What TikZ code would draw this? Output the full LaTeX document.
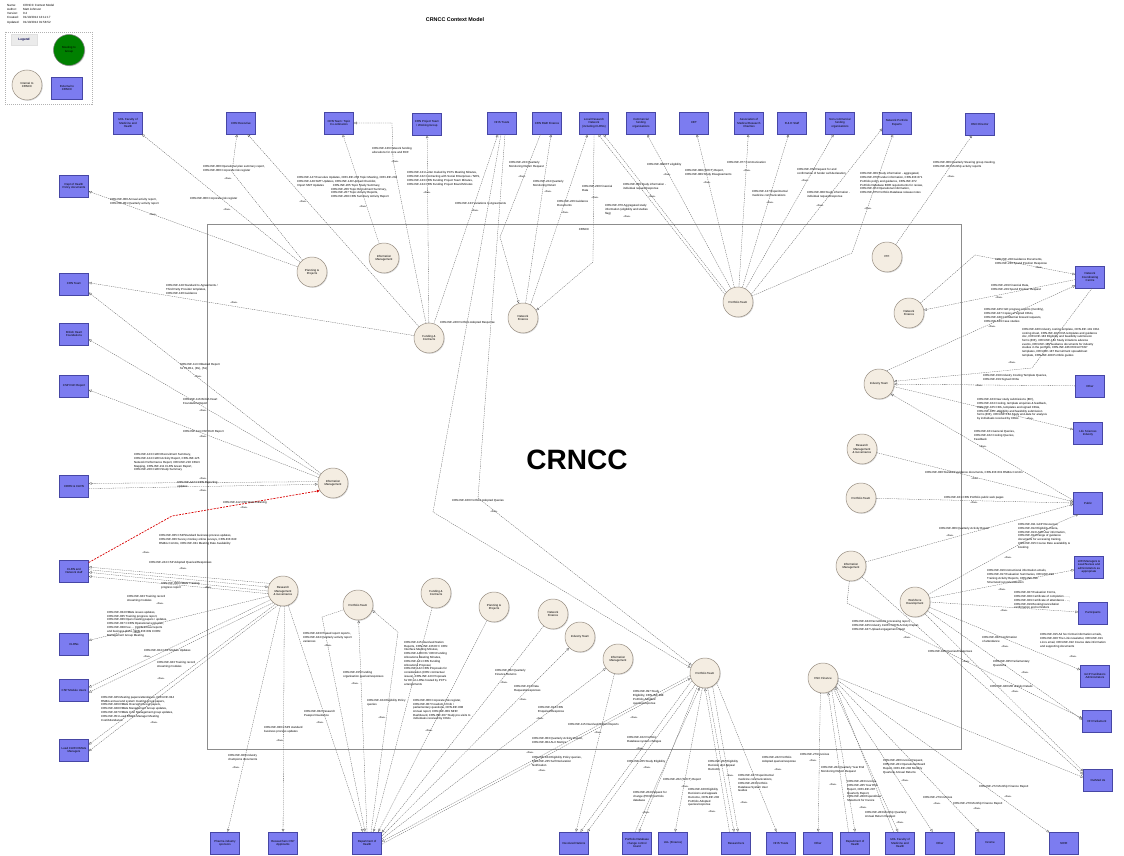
\documentclass[tikz,border=0pt]{standalone}
\usepackage{fontspec}
\setmainfont{Liberation Sans}
\usetikzlibrary{arrows.meta, shadows, positioning}
\definecolor{extfill}{RGB}{124,124,240}
\definecolor{extline}{RGB}{70,70,165}
\definecolor{intfill}{RGB}{244,237,226}
\definecolor{intline}{RGB}{150,140,128}
\definecolor{meetfill}{RGB}{0,128,0}
\definecolor{flowgray}{RGB}{95,95,95}
\tikzset{
    extbox/.style={rectangle, draw=extline, fill=extfill, line width=0.4pt, minimum width=29pt, minimum height=22pt, inner sep=0.5pt, align=center, font=\fontsize{2.9}{3.5}\selectfont, drop shadow={shadow xshift=0.8pt, shadow yshift=-0.8pt, fill=black!35}},
    intcircle/.style={circle, draw=intline, fill=intfill, line width=0.5pt, minimum size=30pt, inner sep=0pt, align=center, font=\fontsize{2.9}{3.5}\selectfont, drop shadow={shadow xshift=0.8pt, shadow yshift=-0.8pt, fill=black!30}},
    flowarrow/.style={draw=flowgray, line width=0.3pt, dash pattern=on 1.3pt off 0.9pt, -{Triangle[open, length=2.8pt, width=2.6pt]}},
    redflow/.style={flowarrow, draw=red!85!black, line width=0.7pt, dash pattern=on 2pt off 1.2pt},
    infolbl/.style={anchor=north west, inner sep=0pt, align=left, font=\fontsize{2.9}{3.9}\selectfont},
    flowtag/.style={inner sep=0pt, font=\fontsize{2.4}{2.6}\selectfont},
}

\begin{document}
\begin{tikzpicture}[x=1pt, y=-1pt]
\fill[white] (0,0) rectangle (1124,856);
\useasboundingbox (0,0) rectangle (1124,856);

% header and legend
\node[anchor=north west, inner sep=0pt, align=left, font=\fontsize{3}{4.2}\selectfont] (metakeys) at (7,4) {Name:\\Author:\\Version:\\Created:\\Updated:};
\node[anchor=north west, inner sep=0pt, align=left, font=\fontsize{3}{4.2}\selectfont] (metavals) at (23,4) {CRNCC Context Model\\Matt Johnson\\0.2\\01/10/2012 13:11:17\\01/10/2012 01:58:52};
\node[font=\bfseries\fontsize{5.4}{6}\selectfont] (title) at (455,20) {CRNCC Context Model};

\node[draw=black!30, dash pattern=on 1pt off 1pt, minimum width=87pt, minimum height=72pt, inner sep=0pt] (legend) at (48.5,68) {};
\node[fill=black!8, draw=black!12, minimum width=26pt, minimum height=11pt, inner sep=0pt, font=\bfseries\fontsize{3.2}{4}\selectfont, text=blue!30!black] (legendhd) at (24,40) {Legend};
\node[intcircle, fill=meetfill, draw=black!50, minimum size=31pt] (lgmeet) at (69,50) {Meeting to\\Group};
\node[intcircle] (lgint) at (27,85) {Internal to\\CRNCC};
\node[extbox, minimum width=31pt] (lgext) at (67,88) {External to\\CRNCC};

% system boundary
\node[draw=black!45, line width=0.6pt, minimum width=754pt, minimum height=525pt, inner sep=0pt] (crncc) at (584,486.5) {};
\node[font=\fontsize{2.9}{3.5}\selectfont, anchor=north] (crnccname) at (584,225) {CRNCC};
\node[font=\bfseries\fontsize{28}{30}\selectfont] (crncctitle) at (577,460) {CRNCC};

% external: top row
\node[extbox] (ufmh) at (128,123) {UOL Faculty of\\Medicine and\\Health};
\node[extbox] (crnexec) at (241,123) {CRN Executive};
\node[extbox] (topic) at (339,123) {CRN Team: Topic\\Co-ordinators};
\node[extbox] (projteam) at (427,124) {CRN Project Team\\/ Working Group};
\node[extbox] (nhstop) at (502,123) {NHS Trusts};
\node[extbox] (rdfin) at (547,123) {CRN R\&D Finance};
\node[extbox] (lrn) at (594,123) {Local Research\\Network\\(including CLRNs)};
\node[extbox] (commfund) at (641,123) {Commercial\\funding\\organisations};
\node[extbox] (cet) at (694,123) {CET};
\node[extbox] (amrc) at (749,123) {Association of\\Medical Research\\Charities};
\node[extbox] (rdstaff) at (792,123) {R \& D Staff};
\node[extbox] (noncomm) at (840,123) {Non-commercial\\funding\\organisations};
\node[extbox] (npexp) at (897,123) {Network Portfolio\\Experts};
\node[extbox] (dnc) at (980,124) {DNC Director};

% external: left column
\node[extbox] (dhpol) at (74,186) {Dept of Health\\Policy documents};
\node[extbox] (crnteam) at (74,284) {CRN Team};
\node[extbox] (bhf) at (74,334) {British Heart\\Foundations};
\node[extbox] (cspdoh) at (74,386) {CSP DoH Report};
\node[extbox] (cdrn) at (74,486) {CDRN \& CLRN};
\node[extbox] (clrnstaff) at (74,571) {CLRN and\\Network staff};
\node[extbox] (clrns) at (74,644) {CLRNs};
\node[extbox] (cspusers) at (74,690) {CSP Module Users};
\node[extbox] (leadrmg) at (74,750) {Lead CLRN RM\&G\\Managers};

% external: bottom row
\node[extbox] (pharma) at (225,843) {Pharma industry\\sponsors};
\node[extbox] (cspapp) at (283,843) {Researchers CSP\\Applicants};
\node[extbox] (doh) at (367,843) {Department of\\Health};
\node[extbox] (devolved) at (574,843) {Devolved Nations};
\node[extbox] (pdccb) at (637,843) {Portfolio Database\\change control\\board};
\node[extbox] (uolfin) at (673,843) {UoL (Finance)};
\node[extbox] (researchers) at (736,843) {Researchers};
\node[extbox] (nhsbot) at (781,843) {NHS Trusts};
\node[extbox] (otherA) at (818,843) {Other};
\node[extbox] (dohB) at (855,843) {Department of\\Health};
\node[extbox] (ufmhB) at (900,843) {UOL Faculty of\\Medicine and\\Health};
\node[extbox] (otherB) at (940,843) {Other};
\node[extbox] (income) at (990,843) {Income};
\node[extbox] (nihr) at (1064,843) {NIHR};

% external: right column
\node[extbox] (ncc) at (1090,277) {Network\\Coordinating\\Centre};
\node[extbox] (otherC) at (1090,386) {Other};
\node[extbox] (lsi) at (1088,433) {Life Sciences\\Industry};
\node[extbox] (public) at (1088,503) {Public};
\node[extbox] (lrnmgr) at (1089,567) {LRN Managers \&\\Lead Nurses and\\administrators as\\appropriate};
\node[extbox] (particip) at (1093,613) {Participants};
\node[extbox] (gcpfac) at (1095,676) {GCP Facilitators\\Administrators};
\node[extbox] (dhparl) at (1097,721) {DH Parliament};
\node[extbox] (charities) at (1098,780) {OurMed Us};

% internal teams
\node[intcircle] (pp1) at (312,272) {Planning \&\\Projects};
\node[intcircle] (im1) at (384,258) {Information\\Management};
\node[intcircle] (fc1) at (429,338) {Funding \&\\Contracts};
\node[intcircle] (nf1) at (523,318) {Network\\Finance};
\node[intcircle] (pt1) at (738,302) {Portfolio Team};
\node[intcircle] (ppi) at (887,257) {PPI};
\node[intcircle] (nf2) at (909,313) {Network\\Finance};
\node[intcircle] (it1) at (879,384) {Industry Team};
\node[intcircle] (rmg1) at (862,449) {Research\\Management\\\& Governance};
\node[intcircle] (pt2) at (861,498) {Portfolio Team};
\node[intcircle] (im2) at (333,483) {Information\\Management};
\node[intcircle] (im3) at (851,566) {Information\\Management};
\node[intcircle] (wd) at (915,602) {Workforce\\Development};
\node[intcircle] (hsc) at (823,678) {HSC Finance};
\node[intcircle] (rmg2) at (283,591) {Research\\Management\\\& Governance};
\node[intcircle] (pt3) at (358,605) {Portfolio Team};
\node[intcircle] (fc2) at (436,593) {Funding \&\\Contracts};
\node[intcircle] (pp2) at (494,607) {Planning \&\\Projects};
\node[intcircle] (nf3) at (553,614) {Network\\Finance};
\node[intcircle] (it2) at (580,637) {Industry Team};
\node[intcircle] (im4) at (618,659) {Information\\Management};
\node[intcircle] (pt4) at (705,673) {Portfolio Team};

% bends
\coordinate (kExec) at (232,172);
\coordinate (kTopicA) at (393,160);
\coordinate (kTopicB) at (392,123);
\coordinate (kNhsA) at (433,512);
\coordinate (kNhsB) at (478,498);
\coordinate (kFin) at (500,237);
\coordinate (kLrn) at (593,262);
\coordinate (kExp) at (852,253);
\coordinate (kNcc) at (975,255);
\coordinate (kInd) at (1032,368);
\coordinate (kPub) at (1060,522);
\coordinate (kParl) at (847,603);
\coordinate (kRed) at (172,516);
\coordinate (kPt3) at (322,617);
\coordinate (kPt3b) at (398,632);

% top flows
\draw[flowarrow] (pp1) -- (dhpol);
\draw[flowarrow] (pp1) -- (ufmh);
\draw[flowarrow] (pp1) -- (kExec) -- (crnexec.-110);
\draw[flowarrow] (fc1) -- (crnexec.-60);
\draw[flowarrow] (im1) -- (topic);
\draw[flowarrow] (fc1) -- (kTopicA) -- (kTopicB) -- (topic);
\draw[flowarrow] (fc1) -- (projteam);
\draw[flowarrow] (fc1) -- (nhstop.-110);
\draw[flowarrow] (nhstop.-95) -- (kNhsA) -- (pt4.160);
\draw[flowarrow] (nhstop.-75) -- (kNhsB) -- (pt4.150);
\draw[flowarrow] (rdfin.-120) -- (kFin) -- (nf1);
\draw[flowarrow] (nf1.80) -- (rdfin.-70);
\draw[flowarrow] (nf1.60) -- (lrn.-120);
\draw[flowarrow] (lrn.-90) -- (kLrn) -- (nf1.30);
\draw[flowarrow] (pt1.150) -- (lrn.-70);
\draw[flowarrow] (pt1.140) -- (lrn.-50);
\draw[flowarrow] (pt1) -- (commfund);
\draw[flowarrow] (pt1) -- (cet);
\draw[flowarrow] (pt1) -- (amrc);
\draw[flowarrow] (pt1) -- (rdstaff);
\draw[flowarrow] (pt1) -- (noncomm);
\draw[flowarrow] (pt1) -- (kExp) -- (npexp.-110);
\draw[flowarrow] (pt1.30) -- (npexp.-160);
\draw[flowarrow] (ppi) -- (dnc);

% right flows
\draw[flowarrow] (nf2) -- (kNcc) -- (ncc.170);
\draw[flowarrow] (ncc.-170) -- (nf2);
\draw[flowarrow] (it1.60) -- (ncc.-150);
\draw[flowarrow] (ncc.-80) -- (kInd) -- (it1.10);
\draw[flowarrow] (otherC) -- (it1);
\draw[flowarrow] (it1.-10) -- (lsi);
\draw[flowarrow] (public.170) -- (it1.-40);
\draw[flowarrow] (rmg1) -- (public.175);
\draw[flowarrow] (pt2) -- (public.180);
\draw[flowarrow] (im3) -- (public.-175);
\draw[flowarrow] (wd.30) -- (kPub) -- (public.-130);
\draw[flowarrow] (wd.15) -- (lrnmgr);
\draw[flowarrow] (wd.0) -- (particip);
\draw[flowarrow] (wd.-20) -- (gcpfac);
\draw[flowarrow] (im3) -- (kParl) -- (dhparl.170);
\draw[flowarrow] (wd.-35) -- (dhparl.175);
\draw[flowarrow] (im3.-45) -- (charities.160);
\draw[flowarrow] (wd.-50) -- (charities.150);

% finance flows
\draw[flowarrow] (hsc.-100) -- (otherA);
\draw[flowarrow] (dohB.120) -- (hsc.-70);
\draw[flowarrow] (hsc.-55) -- (dohB.90);
\draw[flowarrow] (hsc.-45) -- (ufmhB.100);
\draw[flowarrow] (ufmhB.120) -- (hsc.-35);
\draw[flowarrow] (hsc.-30) -- (otherB);
\draw[flowarrow] (hsc.-20) -- (income);
\draw[flowarrow] (hsc.-10) -- (nihr);
\draw[flowarrow] (hsc.0) -- (charities.170);

% portfolio flows
\draw[flowarrow] (pt4.-150) -- (devolved.60);
\draw[flowarrow] (im4) -- (devolved.80);
\draw[flowarrow] (pt4.-130) -- (devolved.40);
\draw[flowarrow] (pt4.-120) -- (pdccb.80);
\draw[flowarrow] (pdccb.100) -- (pt4.-110);
\draw[flowarrow] (pt4.-100) -- (uolfin);
\draw[flowarrow] (pt4.-80) -- (researchers.100);
\draw[flowarrow] (researchers.120) -- (pt4.-90);
\draw[flowarrow] (pt4.-60) -- (researchers.80);
\draw[flowarrow] (pt4.-40) -- (nhsbot);

% department of health flows
\draw[flowarrow] (rmg2.-70) -- (doh.110);
\draw[flowarrow] (pt3) -- (kPt3) -- (doh.100);
\draw[flowarrow] (doh.90) -- (pt3);
\draw[flowarrow] (doh.70) -- (kPt3b) -- (pt3.-20);
\draw[flowarrow] (fc2) -- (doh.60);
\draw[flowarrow] (pp2) -- (doh.45);
\draw[flowarrow] (nf3) -- (doh.35);
\draw[flowarrow] (doh.25) -- (it2);
\draw[flowarrow] (doh.15) -- (im4);
\draw[flowarrow] (pt4.-170) -- (doh.5);
\draw[flowarrow] (doh.-5) -- (pt4.-160);

% left flows
\draw[flowarrow] (fc1) -- (crnteam.5);
\draw[flowarrow] (im2) -- (crnteam.-30);
\draw[flowarrow] (im2) -- (bhf.-20);
\draw[flowarrow] (im2) -- (cspdoh.-15);
\draw[flowarrow] (im2.175) -- (cdrn.10);
\draw[flowarrow] (cdrn.-10) -- (im2.-175);
\draw[redflow] (clrnstaff.30) -- (kRed) -- (im2.-150);
\draw[flowarrow] (rmg2.150) -- (clrnstaff.15);
\draw[flowarrow] (clrnstaff.5) -- (rmg2.165);
\draw[flowarrow] (rmg2.180) -- (clrnstaff.-5);
\draw[flowarrow] (rmg2.-170) -- (clrnstaff.-20);
\draw[flowarrow] (rmg2.-160) -- (clrns);
\draw[flowarrow] (rmg2.-145) -- (cspusers.10);
\draw[flowarrow] (rmg2.-130) -- (cspusers.-10);
\draw[flowarrow] (rmg2.-120) -- (leadrmg.20);
\draw[flowarrow] (rmg2.-110) -- (leadrmg.-5);
\draw[flowarrow] (rmg2.-100) -- (pharma);
\draw[flowarrow] (rmg2.-85) -- (cspapp);

% information labels
\node[infolbl] (lb1) at (110,198) {CRN-INF-000 Annual activity report,\\CRN-INF-001 Quarterly activity report};
\node[infolbl] (lb2) at (190,197) {CRN-INF-000 Corporate risk register};
\node[infolbl] (lb3) at (203,165) {CRN-INF-000 Operational plan summary report,\\CRN-INF-000 Corporate risk register};
\node[infolbl] (lb4) at (297,176) {CRN-INF-147 Executive Updates, CRN-INF-203 Topic Meeting, CRN-INF-204\\CRN-INF-148 SMT Updates, CRN-INF-149 Upload Checklist,\\Import SMT Updates\hspace{9pt}CRN-INF-205 Topic Study Summary,\\\hspace{34pt}CRN-INF-206 Topic Recruitment Summary,\\\hspace{34pt}CRN-INF-207 Topic Activity Reports,\\\hspace{34pt}CRN-INF-208 CRN Summary Activity Report};
\node[infolbl] (lb5) at (372,147) {CRN-INF-136 Network funding\\allocations for core and RCF};
\node[infolbl] (lb6) at (407,171) {CRN-INF-131 Letter mailed by PCTs Meeting Minutes,\\CRN-INF-132 Contracting with Social Enterprises / NHS,\\CRN-INF-133 CRN Funding Project Team Minutes,\\CRN-INF-134 CRN Funding Project Board Minutes};
\node[infolbl] (lb7) at (455,202) {CRN-INF-133 Variations to Agreements};
\node[infolbl] (lb8) at (440,321) {CRN-INF-240 Portfolio Adopted Response};
\node[infolbl] (lb9) at (452,499) {CRN-INF-100 Portfolio Adopted Queries};
\node[infolbl] (lb10) at (509,161) {CRN-INF-223 Quarterly\\Monitoring Return Request};
\node[infolbl] (lb11) at (533,180) {CRN-INF-224 Quarterly\\Monitoring Return};
\node[infolbl] (lb12) at (557,200) {CRN-INF-226 Guidance\\Documents};
\node[infolbl] (lb13) at (582,185) {CRN-INF-230 Financial\\Data};
\node[infolbl] (lb14) at (623,183) {CRN-INF-069 Study information -\\individual request/response};
\node[infolbl] (lb15) at (605,204) {CRN-INF-070 Aggregated study\\information (eligibility and studies\\flag)};
\node[infolbl] (lb16) at (647,163) {CRN-INF-080 ET eligibility};
\node[infolbl] (lb17) at (685,169) {CRN-INF-088 (SRCT) Report,\\CRN-INF-089 Study Disagreements};
\node[infolbl] (lb18) at (727,161) {CRN-INF-077 Communication};
\node[infolbl] (lb19) at (752,190) {CRN-INF-137 Experimental\\medicine communications};
\node[infolbl] (lb20) at (797,168) {CRN-INF-078 Request for and\\confirmation of funder self-declaration};
\node[infolbl] (lb21) at (860,172) {CRN-INF-069 Study information - aggregated,\\CRN-INF-070 Funder information, CRN-INF-071\\Portfolio policy and guidance, CRN-INF-072\\Portfolio Database BOR requirements for review,\\CRN-INF-074 Operational information,\\CRN-INF-075 Portfolio Database release notes};
\node[infolbl] (lb22) at (807,191) {CRN-INF-068 Study information -\\individual request/response};
\node[infolbl] (lb23) at (933,161) {CRN-INF-006 Quarterly Steering group meeting,\\CRN-INF-007 Monthly activity reports};
\node[infolbl] (lb24) at (995,258) {CRN-INF-228 Guidance Documents,\\CRN-INF-236 Spend Position Response};
\node[infolbl] (lb25) at (991,284) {CRN-INF-229 Financial Data,\\CRN-INF-229 Spend Position Request};
\node[infolbl] (lb26) at (984,308) {CRN-INF-185 HLD progress reports (monthly),\\CRN-INF-187 Copies of signed CDAs,\\CRN-INF-188 Confidential forward requests,\\CRN-INF-189 Case studies};
\node[infolbl, font=\fontsize{2.9}{3.7}\selectfont] (lb27) at (1022,328) {CRN-INF-180 Industry costing template, CRN-INF-181 CDA\\costing sheet, CRN-INF-182 CDA templates and guidance\\doc, CRN-INF-183 Eligibility and feasibility submission\\forms (EIF), CRN-INF-184 Study initiations adverse\\events, CRN-INF-185 Guidance documents for industry\\studies in the portfolio, CRN-INF-186 ROCA PSSP\\templates, CRN-INF-187 Recruitment spreadsheet\\template, CRN-INF-188 Portfolio guides};
\node[infolbl] (lb28) at (983,374) {CRN-INF-158 Industry Costing Template Queries,\\CRN-INF-159 Signed CDAs};
\node[infolbl] (lb29) at (977,398) {CRN-INF-163 New study submissions (EIF),\\CRN-INF-164 Costing, template enquiries \& feedback,\\CRN-INF-165 CDA, templates and signed CDAs,\\CRN-INF-166 - Eligibility and feasibility submission\\forms (EIF), CRN-INF-167 Study end-date for analysis\\by individuals received by CDAs};
\node[infolbl] (lb30) at (974,430) {CRN-INF-161 General Queries,\\CRN-INF-162 Costing Queries,\\Feedback};
\node[infolbl] (lb31) at (925,471) {CRN-INF-030 Standard guidance documents, CRN-INF-031 RM\&G Comms};
\node[infolbl] (lb32) at (944,496) {CRN-INF-101 CRN Portfolio public web pages};
\node[infolbl] (lb33) at (939,527) {CRN-INF-006 Quarterly Activity Report};
\node[infolbl] (lb34) at (1018,523) {CRN-INF-011 GCP Resources,\\CRN-INF-012 Eligibility criteria,\\CRN-INF-013 LMS User information,\\CRN-INF-014 Range of guidance\\documents for accessing training,\\CRN-INF-015 Course Date availability \&\\booking};
\node[infolbl] (lb35) at (987,569) {CRN-INF-016 Instructional information emails,\\CRN-INF-017 Evaluation Summaries, CRN-INF-018\\Training Activity Reports, CRN-INF-019\\Structured record evaluation};
\node[infolbl] (lb36) at (1014,591) {CRN-INF-027 Evaluation Forms,\\CRN-INF-028 Certificate of completion - ...,\\CRN-INF-029 Certificate of attendance - ...,\\CRN-INF-019 Booking/cancellation\\confirmation and reminders};
\node[infolbl] (lb37) at (1040,633) {CRN-INF-015 Ad hoc format information emails,\\CRN-INF-020 The Link newsletter, CRN-INF-021\\Lincs email, CRN-INF-022 Course date information\\and supporting documents};
\node[infolbl] (lb38) at (852,620) {CRN-INF-184 Recruitment processing report,\\CRN-INF-185 Industry CLRN CCRN Activity Report,\\CRN-INF-187 Upload engagement report};
\node[infolbl] (lb39) at (982,636) {CRN-INF-032 Confirmation\\of attendance};
\node[infolbl] (lb40) at (993,660) {CRN-INF-035 Parliamentary\\Questions};
\node[infolbl] (lb41) at (928,650) {CRN-INF-188 Queries/Responses};
\node[infolbl] (lb42) at (990,685) {CRN-INF-040 MD activity Details};
\node[infolbl] (lb43) at (800,753) {CRN-INF-279 Invoices};
\node[infolbl] (lb44) at (821,766) {CRN-INF-284 Quarterly Year End\\Monitoring Report Request};
\node[infolbl] (lb45) at (847,780) {CRN-INF-283 Invoices,\\CRN-INF-285 Year End\\Report, CRN-INF-287\\Quarterly Report,\\CRN-INF-288 Expenditure\\Statement for Invoice};
\node[infolbl] (lb46) at (883,759) {CRN-INF-280 Invoice Request,\\CRN-INF-281 Operational Board\\Report, CRN-INF-282 Monthly\\Quarterly Annual Returns};
\node[infolbl] (lb47) at (865,811) {CRN-INF-283 Monthly Quarterly\\Annual Return Request};
\node[infolbl] (lb48) at (923,796) {CRN-INF-279 Invoices};
\node[infolbl] (lb49) at (953,802) {CRN-INF-270 Monthly Finance Report};
\node[infolbl] (lb50) at (979,785) {CRN-INF-272 Monthly Finance Report};
\node[infolbl] (lb51) at (633,690) {CRN-INF-097 Study\\Eligibility, CRN-INF-098\\Portfolio Adopted\\queries/response};
\node[infolbl] (lb52) at (568,723) {CRN-INF-115 Devolved Nation Reports};
\node[infolbl] (lb53) at (627,760) {CRN-INF-265 Study Eligibility};
\node[infolbl] (lb54) at (627,736) {CRN-INF-102 Portfolio\\Database system changes};
\node[infolbl] (lb55) at (633,791) {CRN-INF-264 Request for\\change (PDCR portfolio\\database};
\node[infolbl] (lb56) at (663,778) {CRN-INF-262 (SRCT) Report};
\node[infolbl] (lb57) at (708,760) {CRN-INF-262 Eligibility\\Decision and Appeal\\Outcome};
\node[infolbl] (lb58) at (688,788) {CRN-INF-100 Eligibility\\Decisions and appeals\\Outcome, CRN-INF-202\\Portfolio Adopted\\queries/response};
\node[infolbl] (lb59) at (738,774) {CRN-INF-107 Experimental\\medicine communications,\\CRN-INF-263 Portfolio\\Database System User\\Guides};
\node[infolbl] (lb60) at (762,756) {CRN-INF-242 Portfolio\\Adopted queries/response};
\node[infolbl] (lb61) at (304,710) {CRN-INF-032 Research\\Passport Guidance};
\node[infolbl] (lb62) at (303,632) {CRN-INF-183 Phased report reports,\\CRN-INF-184 Quarterly activity report\\variances};
\node[infolbl] (lb63) at (343,671) {CRN-INF-155 Funding\\organisation queries/responses};
\node[infolbl] (lb64) at (367,699) {CRN-INF-104 Eligibility Policy\\queries};
\node[infolbl, font=\fontsize{2.9}{3.8}\selectfont] (lb65) at (404,641) {CRN-INF-115 Devolved Nation\\Reports, CRN-INF-136 DH / CRN\\Interface Meeting Minutes,\\CRN-INF-140 DH / CRN Funding\\Allocations Meeting Minutes,\\CRN-INF-141 CRN Funding\\Allocations Proposal,\\CRN-INF-142 CRN Proposals for\\consideration (CRN contractual\\issues), CRN-INF-143 Proposals\\for DH on LRNs hosted by PCT's\\arrangements};
\node[infolbl, font=\fontsize{2.9}{3.7}\selectfont] (lb66) at (413,699) {CRN-INF-000 Corporate risk register,\\CRN-INF-007 Freedom of Info /\\parliamentary questions, CRN-INF-008\\Annual report, CRN-INF-009 NIHR\\Dashboard, CRN-INF-037 Study pre-visits to\\individuals received by CDAs};
\node[infolbl] (lb67) at (495,669) {CRN-INF-032 Quarterly\\Finance Returns};
\node[infolbl] (lb68) at (514,685) {CRN-INF-153 Data\\Requests/responses};
\node[infolbl] (lb69) at (538,706) {CRN-INF-014 CRN\\Enquiries/Response};
\node[infolbl] (lb70) at (532,737) {CRN-INF-003 Quarterly Activity Report,\\CRN-INF-004 ALC Metrics};
\node[infolbl] (lb71) at (532,756) {CRN-INF-104 Eligibility Policy queries,\\CRN-INF-235 Self Declaration\\Notification};
\node[infolbl] (lb72) at (166,284) {CRN-INF-128 Standard to Agreements /\\Third Party Provider templates,\\CRN-INF-130 Guidance};
\node[infolbl] (lb73) at (180,363) {CRN-INF-113 Obtained Report\\for HLD11, (Dx), (Sx)};
\node[infolbl] (lb74) at (183,398) {CRN-INF-116 British Heart\\Foundation Report};
\node[infolbl] (lb75) at (183,430) {CRN-INF-114 CSP DoH Report};
\node[infolbl] (lb76) at (134,453) {CRN-INF-123 CLRN Recruitment Summary,\\CRN-INF-124 CLRN Activity Report, CRN-INF-125\\Network Performance Report, CRN-INF-210 CRLN\\Mapping, CRN-INF-211 CLRN Green Report,\\CRN-INF-220 CLRN Study Summary};
\node[infolbl] (lb77) at (177,481) {CRN-INF-127 CCRN Reporting\\updates};
\node[infolbl] (lb78) at (223,501) {CRN-INF-112 CSP Data Cleaning};
\node[infolbl] (lb79) at (159,534) {CRN-INF-035 CSP/Standard business process updates,\\CRN-INF-036 Survey monkey online surveys, CRN-INF-040\\RM\&G Comms, CRN-INF-041 Meeting Date Availability};
\node[infolbl] (lb80) at (149,561) {CRN-INF-244 CSP Adopted Queries/Responses};
\node[infolbl] (lb81) at (161,582) {CRN-INF-038 RM\&G Training\\progress report};
\node[infolbl] (lb82) at (127,595) {CRN-INF-043 Training record\\streaming modules};
\node[infolbl, font=\fontsize{2.9}{3.8}\selectfont] (lb83) at (107,611) {CRN-INF-034 RM\&G issues updates,\\CRN-INF-035 Training progress report,\\CRN-INF-036 Open meeting papers / updates,\\CRN-INF-037 CCRN Operational work plan,\\CRN-INF-038 Fee ... CLRN annual reports\\and business plans, CRN-INF-039 CCRN\\Management Group Meeting};
\node[infolbl] (lb84) at (144,649) {CRN-INF-024 CSP Module Updates};
\node[infolbl] (lb85) at (157,661) {CRN-INF-043 Training record\\streaming modules};
\node[infolbl, font=\fontsize{2.9}{3.8}\selectfont] (lb86) at (101,696) {CRN-INF-045 Meeting papers/attendance, CRN-INF-044\\RM\&G annual and system meeting group papers,\\CRN-INF-046 RM\&G Oversight Group papers,\\CRN-INF-048 RM\&G Management Group updates,\\CRN-INF-047 RM\&G Cost Management group updates,\\CRN-INF-051 Lead RM\&G Manager Meeting\\Cost/Attendance};
\node[infolbl] (lb87) at (228,754) {CRN-INF-029 Industry\\champions documents};
\node[infolbl] (lb88) at (264,726) {CRN-INF-030 CSP3 standard\\business process updates};

% stereotypes
\foreach [count=\i] \x/\y in {153/215, 227/210, 228/179, 303/202, 363/207, 395/162, 427/193, 475/211, 494/512, 522/177,
    548/192, 565/213, 595/198, 652/197, 627/217, 667/175, 707/183, 747/171, 770/203, 805/181,
    868/209, 820/206, 951/177, 1039/268, 999/298, 992/327, 1012/363, 979/386, 1030/419, 983/447,
    975/479, 974/503, 950/536, 1008/558, 1002/590, 1004/611, 1073/657, 907/638, 1005/647, 1025/673,
    966/662, 1015/692, 813/761, 833/785, 863/808, 905/781, 900/823, 937/804, 977/809, 1008/797,
    634/718, 598/733, 647/768, 640/749, 646/813, 685/787, 730/776, 712/812, 744/803, 778/770,
    320/723, 328/646, 355/684, 382/718, 429/731, 504/683, 523/700, 540/719, 530/753, 542/771,
    234/303, 198/377, 203/411, 203/437, 203/479, 203/491, 244/508, 146/553, 183/569, 208/588,
    160/604, 137/633, 147/657, 161/679, 154/723, 236/768, 280/741}
    \node[flowtag] (flow\i) at (\x,\y) {«flow»};

\end{tikzpicture}
\end{document}
